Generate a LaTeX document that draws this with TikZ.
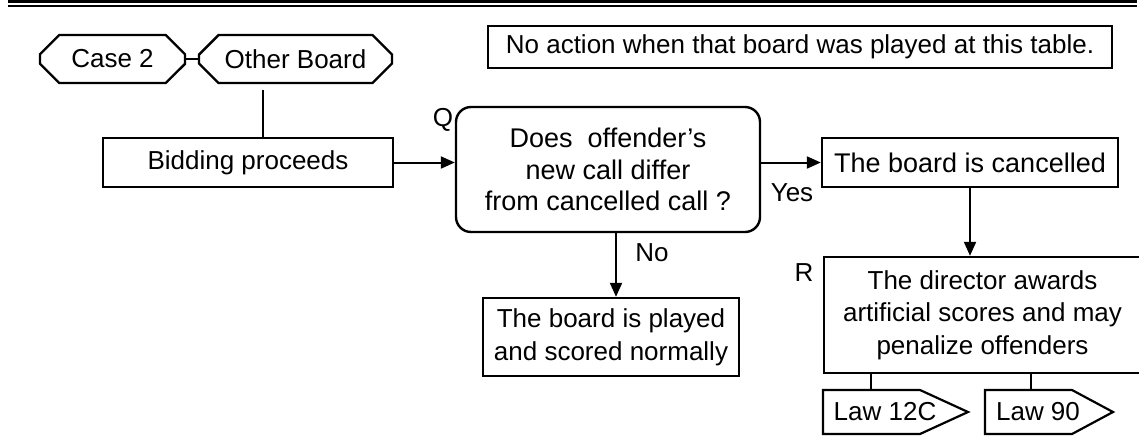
\documentclass[tikz,border=0pt]{standalone}
\usepackage{fontspec}
\setmainfont{Liberation Sans}
\usetikzlibrary{shapes.misc,arrows.meta,calc}
\newcommand\fs{\fontsize{26}{31}\selectfont}
\begin{document}
\begin{tikzpicture}[x=1pt,y=-1pt,
  box/.style={draw, line width=2.4pt, inner sep=0pt, align=center, font=\fs},
  chbox/.style={box, chamfered rectangle, chamfered rectangle xsep=10pt, chamfered rectangle ysep=10pt},
  lbl/.style={inner sep=0pt, font=\fs},
  conn/.style={line width=2.4pt},
  arr/.style={line width=2pt, -{Triangle[length=14pt,width=12pt]}},
]
\useasboundingbox (0,0) rectangle (1139,445);
% top rules
\draw[line width=3pt] (8,1.5) -- (1137,1.5);
\draw[line width=1.5pt] (8,6) -- (1137,6);

\node[chbox, minimum width=145pt, minimum height=48pt] (case) at (112.5,59) {Case 2};
\node[chbox, minimum width=193pt, minimum height=48pt] (other) at (295.5,59) {Other Board};
\node[box, minimum width=624pt, minimum height=42pt] (note) at (800,47) {No action when that board was played at this table.};
\node[box, minimum width=290pt, minimum height=49pt] (bid) at (248,162.5) {Bidding proceeds};
\node[box, rounded corners=15pt, minimum width=304pt, minimum height=125pt, font=\fontsize{27}{31.5}\selectfont] (q) at (608,169.5) {Does\ \ offender’s\\new call differ\\from cancelled call ?};
\node[box, minimum width=296pt, minimum height=49pt, font=\fontsize{27}{31}\selectfont] (canc) at (970,162.5) {The board is cancelled};
\node[box, minimum width=256pt, minimum height=78pt, font=\fontsize{26}{33}\selectfont] (norm) at (611,337) {The board is played\\and scored normally};
\node[box, minimum width=317pt, minimum height=116pt, font=\fontsize{26}{32.5}\selectfont] (r) at (982.5,315) {The director awards\\artificial scores and may\\penalize offenders};

\node[lbl] (ql) at (443,120) {Q};
\node[lbl] (rl) at (804,273) {R};
\node[lbl] (yes) at (792,193) {Yes};
\node[lbl] (no) at (652,253) {No};

% law tags
\node[lbl] (l1) at (885,412) {Law 12C};
\node[lbl] (l2) at (1038,412) {Law 90};
\draw[line width=2.2pt, line join=miter] (823,390) -- (920,390) -- (968,412) -- (920,434) -- (823,434) -- cycle;
\draw[line width=2.2pt, line join=miter] (985,390) -- (1072,390) -- (1113,412) -- (1072,434) -- (985,434) -- cycle;
\coordinate (l1top) at (871,390);
\coordinate (l2top) at (1031,390);

% connectors
\draw[conn] (case.east) -- (other.west);
\coordinate (c1) at (263,90);
\draw[conn] (c1) -- (c1 |- bid.north);
\draw[arr] (bid.east) -- (bid.east -| q.west);
\draw[arr] (q.east |- canc.west) -- (canc.west);
\draw[arr] (canc.south) -- (canc.south |- r.north);
\coordinate (nox) at (616,0);
\draw[arr] (q.south -| nox) -- (nox |- norm.north);
\draw[conn] (r.south -| l1top) -- (l1top);
\draw[conn] (r.south -| l2top) -- (l2top);
\end{tikzpicture}
\end{document}
